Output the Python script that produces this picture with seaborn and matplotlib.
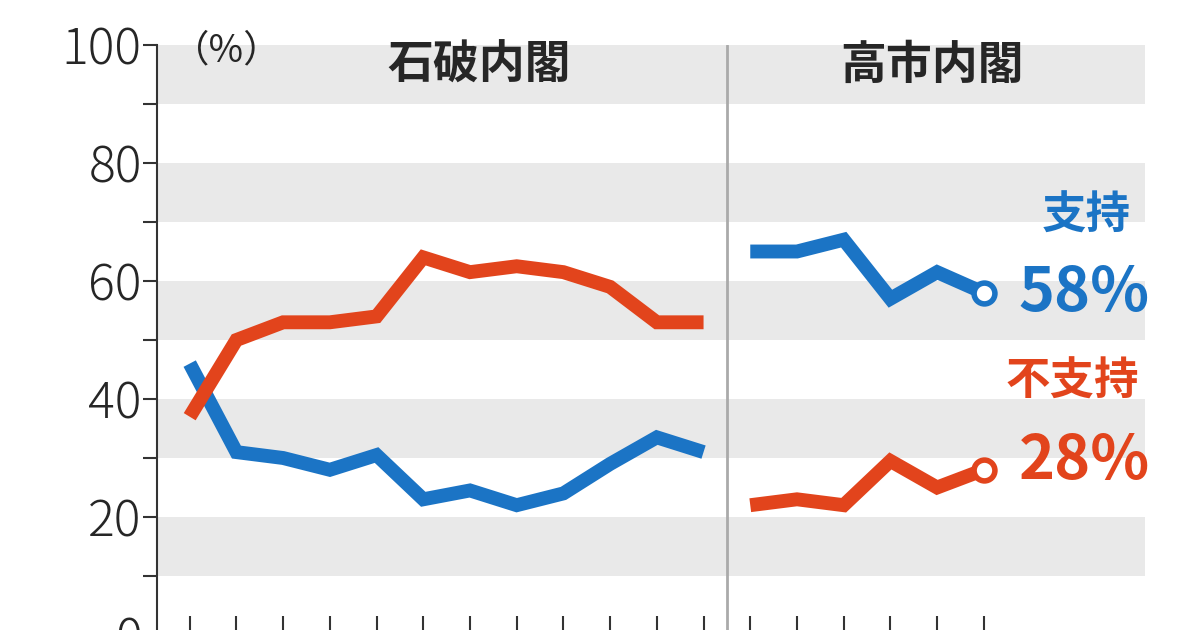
import matplotlib
matplotlib.use("Agg")
import matplotlib.pyplot as plt
import seaborn as sns
import pandas as pd

ishiba_support = [46, 31, 30, 28, 30.5, 23, 24.5, 22, 24, 29, 33.5, 31]
ishiba_oppose = [37, 50, 53, 53, 54, 64, 61.5, 62.5, 61.5, 59, 53, 53]
takaichi_support = [65, 65, 67, 57, 61.5, 58]
takaichi_oppose = [22, 23, 22, 29.5, 25, 28]
yticks = [0, 20, 40, 60, 80, 100]

BLUE = "#1b74c5"
RED = "#e2441c"

sns.set_theme(style="white")
plt.rcParams['font.family'] = ['Noto Sans CJK JP', 'DejaVu Sans']

fig = plt.figure(figsize=(12, 6.3), dpi=100)
ax = fig.add_axes([157/1200, -5/630, (1145-157)/1200, 590/630])

ish = pd.DataFrame({"x": list(range(len(ishiba_support))),
                    "support": ishiba_support, "oppose": ishiba_oppose})
n0 = len(ishiba_support)
tak = pd.DataFrame({"x": list(range(n0, n0 + len(takaichi_support))),
                    "support": takaichi_support, "oppose": takaichi_oppose})

for lo in [10, 30, 50, 70, 90]:
    ax.axhspan(lo, lo + 10, color="#e9e9e9", zorder=0, lw=0)

for df in (ish, tak):
    sns.lineplot(data=df, x="x", y="support", color=BLUE, lw=10, ax=ax,
                 solid_joinstyle="miter", solid_capstyle="butt")
    sns.lineplot(data=df, x="x", y="oppose", color=RED, lw=10, ax=ax,
                 solid_joinstyle="miter", solid_capstyle="butt")

ax.plot(tak["x"].iloc[-1], tak["support"].iloc[-1], "o", ms=15, mfc="white",
        mec=BLUE, mew=4, zorder=5)
ax.plot(tak["x"].iloc[-1], tak["oppose"].iloc[-1], "o", ms=15, mfc="white",
        mec=RED, mew=4, zorder=5)

ax.axvline(n0 - 0.5, color="#aaaaaa", lw=2, zorder=1)

ax.set_xlim(-0.7, 20.45)
ax.set_ylim(0, 100)
ax.set_yticks(yticks)
ax.set_yticklabels([str(v) for v in yticks], fontsize=36, fontweight="light")
ax.set_yticks(range(10, 100, 20), minor=True)
ax.tick_params(axis="y", which="both", direction="out", length=10, width=1.5,
               color="#333333", left=True, pad=1)
ax.set_xticks(list(range(n0 + len(takaichi_support))))
ax.set_xticklabels([])
ax.tick_params(axis="x", direction="in", length=14, width=1.5, color="#333333", bottom=True)
ax.set_xlabel("")
ax.set_ylabel("")
for s in ["top", "right", "bottom"]:
    ax.spines[s].set_visible(False)
ax.spines["left"].set_color("#333333")
ax.spines["left"].set_linewidth(1.5)

ax.text(0.8, 99, "（%）", fontsize=27, ha="center", va="center")
ax.text(6.2, 96.5, "石破内閣", fontsize=33, fontweight="bold", ha="center", va="center")
ax.text(15.9, 96.5, "高市内閣", fontsize=33, fontweight="bold", ha="center", va="center")
ax.text(19.2, 71, "支持", fontsize=32, fontweight="bold", color=BLUE, ha="center", va="center")
ax.text(19.15, 58, "58%", fontsize=44, fontweight="bold", color=BLUE, ha="center", va="center")
ax.text(18.9, 43, "不支持", fontsize=32, fontweight="bold", color=RED, ha="center", va="center")
ax.text(19.15, 29.5, "28%", fontsize=44, fontweight="bold", color=RED, ha="center", va="center")

fig.savefig("out.png", dpi=100)
